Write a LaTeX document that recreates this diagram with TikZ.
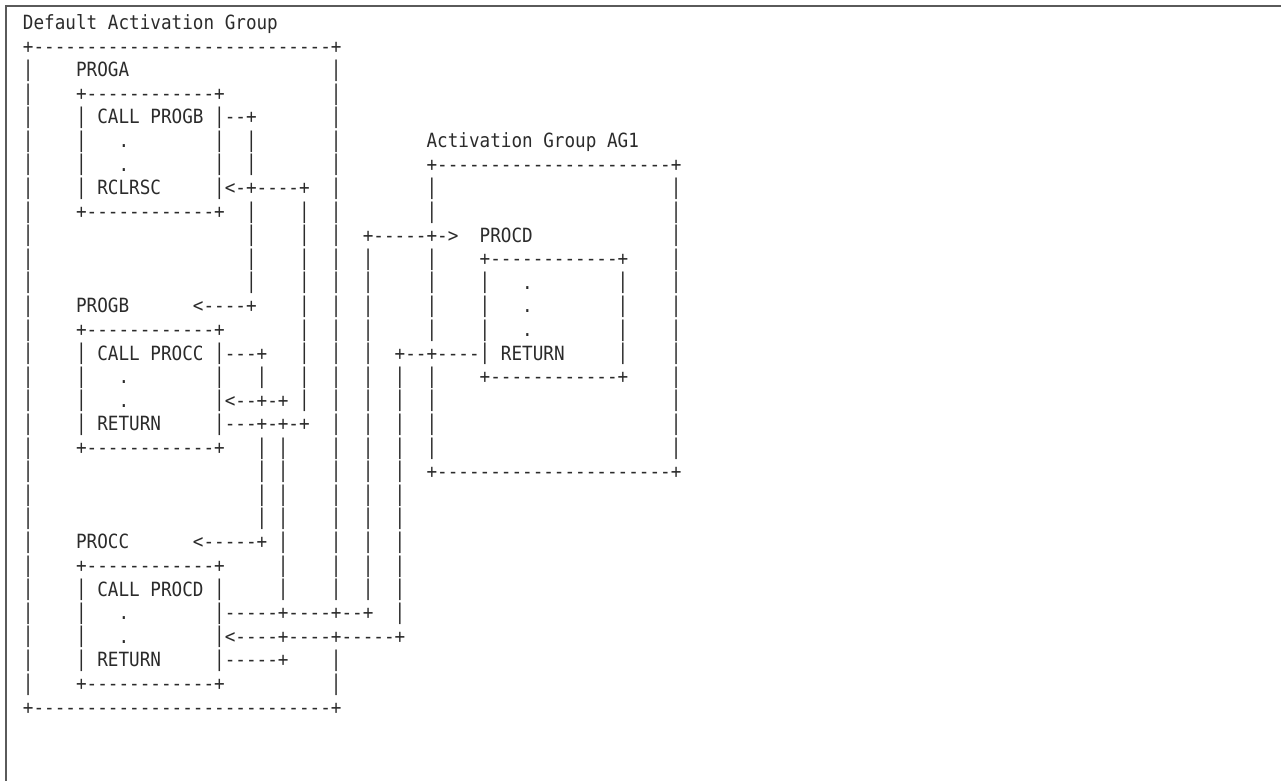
\documentclass[tikz,border=0pt]{standalone}
\usepackage{fontspec}
\setmonofont{DejaVu Sans Mono}[FakeStretch=0.9]
\usepackage{graphicx}

\definecolor{ink}{HTML}{2B2B2B}
\definecolor{rim}{HTML}{5A5A5A}

% stretched bar so the vertical runs nearly join
\newcommand{\vbar}{\raisebox{-2.4pt}{\resizebox*{\width}{10.8pt}{\raisebox{\depth}{|}}}}

\tikzset{
  asc/.style={anchor=base west, inner sep=0pt, outer sep=0pt, text=ink,
    font=\ttfamily\fontsize{9.8pt}{11.8pt}\selectfont},
  rim/.style={draw=rim, line width=0.75pt},
}

\begin{document}
\begin{tikzpicture}[x=5.31pt, y=-11.8pt]
  \useasboundingbox (-11.5pt,14.8pt) rectangle (629pt,-375.7pt);
  \coordinate (rim-bl) at (-8.6pt,-375.7pt);
  \coordinate (rim-tr) at (629pt,11.9pt);
  \draw[rim] (rim-bl) |- (rim-tr);

  % default activation group
  \node[asc] (dag-title) at (0,0) {Default Activation Group};
  \node[asc] (dag-top) at (0,1) {+----------------------------+};
  \node[asc] (dag-bot) at (0,29) {+----------------------------+};

  % PROGA
  \node[asc] (proga) at (5,2) {PROGA};
  \node[asc] (proga-top) at (5,3) {+------------+};
  \node[asc] (proga-call) at (5,4) {\vbar{} CALL PROGB \vbar--+};
  \node[asc] (proga-dot1) at (9,5) {.};
  \node[asc] (proga-dot2) at (9,6) {.};
  \node[asc] (proga-rcl) at (5,7) {\vbar{} RCLRSC};
  \node[asc] (proga-back) at (18,7) {\vbar<-+----+};
  \node[asc] (proga-bot) at (5,8) {+------------+};

  % PROGB
  \node[asc] (progb) at (5,12) {PROGB};
  \node[asc] (progb-in) at (16,12) {<----+};
  \node[asc] (progb-top) at (5,13) {+------------+};
  \node[asc] (progb-call) at (5,14) {\vbar{} CALL PROCC \vbar---+};
  \node[asc] (progb-dot1) at (9,15) {.};
  \node[asc] (progb-dot2) at (9,16) {.};
  \node[asc] (progb-back) at (18,16) {\vbar<--+-+};
  \node[asc] (progb-ret) at (5,17) {\vbar{} RETURN};
  \node[asc] (progb-out) at (18,17) {\vbar---+-+-+};
  \node[asc] (progb-bot) at (5,18) {+------------+};

  % PROCC
  \node[asc] (procc) at (5,22) {PROCC};
  \node[asc] (procc-in) at (16,22) {<-----+};
  \node[asc] (procc-top) at (5,23) {+------------+};
  \node[asc] (procc-call) at (5,24) {\vbar{} CALL PROCD \vbar};
  \node[asc] (procc-dot1) at (9,25) {.};
  \node[asc] (procc-out) at (18,25) {\vbar-----+----+--+};
  \node[asc] (procc-dot2) at (9,26) {.};
  \node[asc] (procc-back) at (18,26) {\vbar<----+----+-----+};
  \node[asc] (procc-ret) at (5,27) {\vbar{} RETURN};
  \node[asc] (procc-end) at (18,27) {\vbar-----+};
  \node[asc] (procc-bot) at (5,28) {+------------+};

  % activation group AG1
  \node[asc] (ag1-title) at (38,5) {Activation Group AG1};
  \node[asc] (ag1-top) at (38,6) {+----------------------+};
  \node[asc] (ag1-bot) at (38,19) {+----------------------+};

  % PROCD
  \node[asc] (procd-in) at (32,9) {+-----+->};
  \node[asc] (procd) at (43,9) {PROCD};
  \node[asc] (procd-top) at (43,10) {+------------+};
  \node[asc] (procd-dot1) at (47,11) {.};
  \node[asc] (procd-dot2) at (47,12) {.};
  \node[asc] (procd-dot3) at (47,13) {.};
  \node[asc] (procd-ret) at (35,14) {+--+----\vbar{} RETURN};
  \node[asc] (procd-bot) at (43,15) {+------------+};

  % vertical runs
  \foreach \r in {2,...,28} \node[asc] (bar-0-\r) at (0,\r) {\vbar};
  \foreach \r in {5,6,15,16,25,26} \node[asc] (bar-5-\r) at (5,\r) {\vbar};
  \foreach \r in {5,6,15} \node[asc] (bar-18-\r) at (18,\r) {\vbar};
  \foreach \r in {5,6,8,9,10,11} \node[asc] (bar-21-\r) at (21,\r) {\vbar};
  \foreach \r in {15,18,19,20,21} \node[asc] (bar-22-\r) at (22,\r) {\vbar};
  \foreach \r in {18,...,24} \node[asc] (bar-24-\r) at (24,\r) {\vbar};
  \foreach \r in {8,...,16} \node[asc] (bar-26-\r) at (26,\r) {\vbar};
  \foreach \r in {2,...,24,27,28} \node[asc] (bar-29-\r) at (29,\r) {\vbar};
  \foreach \r in {10,...,24} \node[asc] (bar-32-\r) at (32,\r) {\vbar};
  \foreach \r in {15,...,25} \node[asc] (bar-35-\r) at (35,\r) {\vbar};
  \foreach \r in {7,8,10,11,12,13,15,16,17,18} \node[asc] (bar-38-\r) at (38,\r) {\vbar};
  \foreach \r in {11,12,13} \node[asc] (bar-43-\r) at (43,\r) {\vbar};
  \foreach \r in {11,...,14} \node[asc] (bar-56-\r) at (56,\r) {\vbar};
  \foreach \r in {7,...,18} \node[asc] (bar-61-\r) at (61,\r) {\vbar};
\end{tikzpicture}
\end{document}
